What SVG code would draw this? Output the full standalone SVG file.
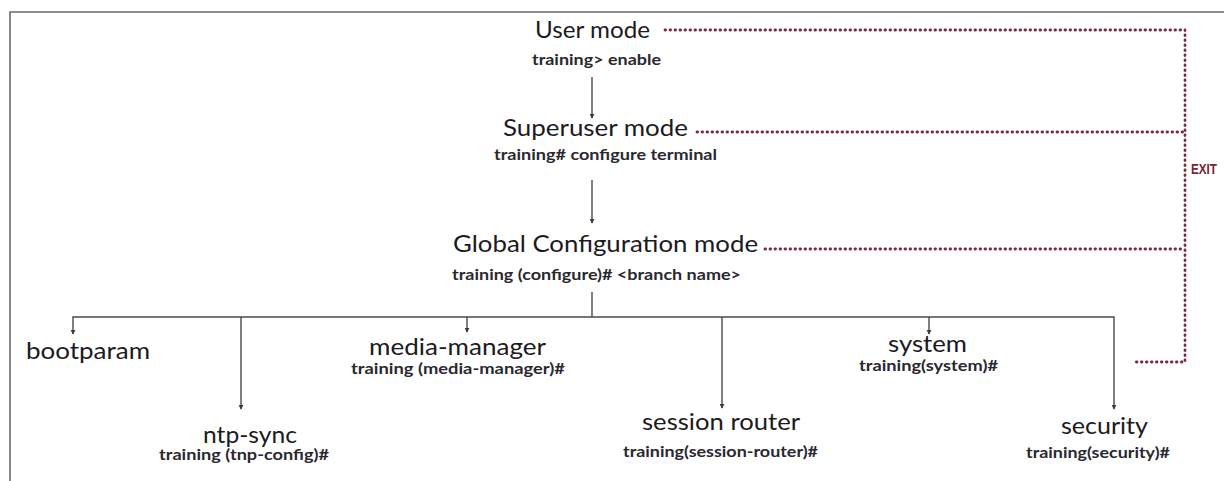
<svg xmlns="http://www.w3.org/2000/svg" width="1224" height="481" viewBox="0 0 1224 481">
<style>
.main{font-family:Lato,"Open Sans","Liberation Sans",sans-serif;font-size:24px;fill:#1c1a1e;}
.sub{font-family:Lato,"Open Sans","Liberation Sans",sans-serif;font-size:14.5px;font-weight:bold;fill:#2a2830;}
.exit{font-family:"Liberation Sans",Lato,sans-serif;font-size:15px;font-weight:bold;fill:#7a2535;}
.conn{fill:none;stroke:#4a4850;stroke-width:1.4;}
.dot{fill:none;stroke:#7a2b3b;stroke-width:2.8;stroke-linecap:round;stroke-dasharray:0.6 4.4;}
.frame{fill:none;stroke:#6a6a6a;stroke-width:1.6;}
</style>
<defs>
<marker id="ah" viewBox="0 0 6 6" refX="5" refY="3" markerWidth="5" markerHeight="5" markerUnits="userSpaceOnUse" orient="auto">
<path d="M0,0 L6,3 L0,6 z" fill="#3a3840"/>
</marker>
</defs>
<rect width="1224" height="481" fill="#ffffff"/>
<g id="frame">
<path class="frame" d="M10,481 V12 H1224"/>
</g>
<g id="connectors">
<path class="conn" d="M592,77 V118" marker-end="url(#ah)"/>
<path class="conn" d="M592,180 V223" marker-end="url(#ah)"/>
<path class="conn" d="M592,292 V317"/>
<path class="conn" d="M80,317 H1114 V409" marker-end="url(#ah)"/>
<path class="conn" d="M80,317 H73 V334" marker-end="url(#ah)"/>
<path class="conn" d="M241,317 V409" marker-end="url(#ah)"/>
<path class="conn" d="M467,317 V332" marker-end="url(#ah)"/>
<path class="conn" d="M722,317 V408" marker-end="url(#ah)"/>
<path class="conn" d="M929,317 V334" marker-end="url(#ah)"/>
</g>
<g id="exit-lines">
<path class="dot" d="M665,30 H1185 V362 H1135"/>
<path class="dot" d="M697,132 H1185"/>
<path class="dot" d="M765,249 H1185"/>
<text class="exit" x="1191" y="174" textLength="26" lengthAdjust="spacingAndGlyphs">EXIT</text>
</g>
<g id="user-mode">
<text class="main" x="535" y="38" textLength="115" lengthAdjust="spacingAndGlyphs">User mode</text>
<text class="sub" x="532" y="65" textLength="129" lengthAdjust="spacingAndGlyphs">training&gt; enable</text>
</g>
<g id="superuser-mode">
<text class="main" x="503" y="136" textLength="185" lengthAdjust="spacingAndGlyphs">Superuser mode</text>
<text class="sub" x="494" y="160" textLength="223" lengthAdjust="spacingAndGlyphs">training# configure terminal</text>
</g>
<g id="global-config-mode">
<text class="main" x="453" y="252" textLength="305" lengthAdjust="spacingAndGlyphs">Global Configuration mode</text>
<text class="sub" x="452" y="280" textLength="289" lengthAdjust="spacingAndGlyphs">training (configure)# &lt;branch name&gt;</text>
</g>
<g id="bootparam">
<text class="main" x="26" y="359" textLength="124" lengthAdjust="spacingAndGlyphs">bootparam</text>
</g>
<g id="ntp-sync">
<text class="main" x="203" y="443" textLength="94" lengthAdjust="spacingAndGlyphs">ntp-sync</text>
<text class="sub" x="159" y="460" textLength="170" lengthAdjust="spacingAndGlyphs">training (tnp-config)#</text>
</g>
<g id="media-manager">
<text class="main" x="369" y="355" textLength="177" lengthAdjust="spacingAndGlyphs">media-manager</text>
<text class="sub" x="351" y="374" textLength="214" lengthAdjust="spacingAndGlyphs">training (media-manager)#</text>
</g>
<g id="session-router">
<text class="main" x="642" y="430" textLength="158" lengthAdjust="spacingAndGlyphs">session router</text>
<text class="sub" x="623" y="457" textLength="195" lengthAdjust="spacingAndGlyphs">training(session-router)#</text>
</g>
<g id="system">
<text class="main" x="888" y="352" textLength="79" lengthAdjust="spacingAndGlyphs">system</text>
<text class="sub" x="859" y="371" textLength="139" lengthAdjust="spacingAndGlyphs">training(system)#</text>
</g>
<g id="security">
<text class="main" x="1061" y="434" textLength="87" lengthAdjust="spacingAndGlyphs">security</text>
<text class="sub" x="1026" y="458" textLength="144" lengthAdjust="spacingAndGlyphs">training(security)#</text>
</g>
</svg>
